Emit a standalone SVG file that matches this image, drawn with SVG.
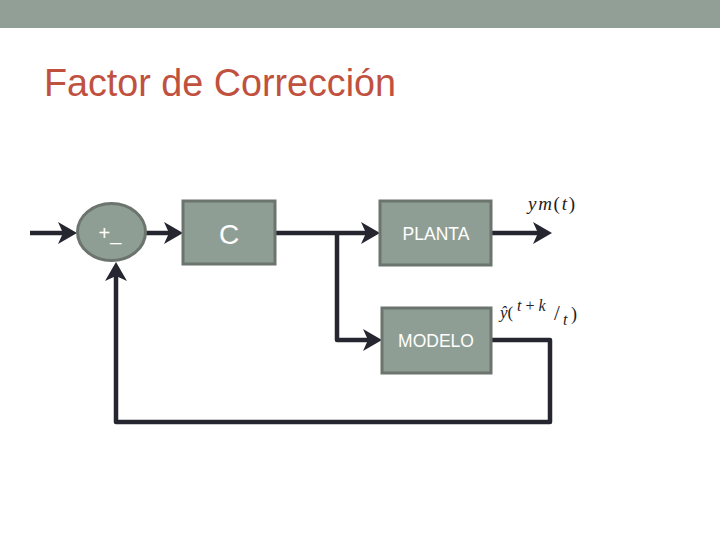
<svg xmlns="http://www.w3.org/2000/svg" width="720" height="540" viewBox="0 0 720 540">
<style>
.box{fill:#8f9e94;stroke:#6b756d;stroke-width:3}
.lbl{font-family:"Liberation Sans",Arial,sans-serif;fill:#ffffff;text-anchor:middle}
.wire{fill:none;stroke:#25262f;stroke-width:4.5;stroke-linejoin:round}
.math{font-family:"Liberation Serif","Times New Roman",serif;fill:#222222}
</style>
<defs>
<marker id="arr" markerUnits="userSpaceOnUse" viewBox="-10 -12 22 24" markerWidth="22" markerHeight="24" refX="0" refY="0" orient="auto" overflow="visible">
<path d="M10,0 L-9,-11 L-4,0 L-9,11 Z" fill="#25262f"/>
</marker>
</defs>
<rect x="0" y="0" width="720" height="28" fill="#929f96"/>
<text x="44" y="96" font-family="'Liberation Sans',Arial,sans-serif" font-size="38" fill="#c0513f" textLength="352" lengthAdjust="spacingAndGlyphs">Factor de Corrección</text>
<g id="connectors">
<path class="wire" d="M30,233 H67" marker-end="url(#arr)"/>
<path class="wire" d="M146,233 H173" marker-end="url(#arr)"/>
<path class="wire" d="M275,233 H370" marker-end="url(#arr)"/>
<path class="wire" d="M337,233 V340 H372" marker-end="url(#arr)"/>
<path class="wire" d="M491,233 H542" marker-end="url(#arr)"/>
<path class="wire" d="M491,340 H550 V422 H116 V272" marker-end="url(#arr)"/>
</g>
<g id="sum">
<ellipse class="box" cx="111.5" cy="232" rx="34" ry="28.5"/>
<text class="lbl" x="110" y="240" font-size="20">+_</text>
</g>
<g id="C">
<rect class="box" x="183" y="201" width="92" height="63"/>
<text class="lbl" x="229" y="244" font-size="28">C</text>
</g>
<g id="planta">
<rect class="box" x="380" y="201" width="111" height="64"/>
<text class="lbl" x="436" y="240" font-size="17.5">PLANTA</text>
</g>
<g id="modelo">
<rect class="box" x="382" y="308" width="109" height="65"/>
<text class="lbl" x="436" y="347" font-size="17.5">MODELO</text>
</g>
<g id="labels">
<text class="math" x="528" y="210" font-size="19" textLength="47" lengthAdjust="spacing"><tspan font-style="italic">ym</tspan>(<tspan font-style="italic">t</tspan>)</text>
<text class="math" x="500" y="318" font-size="17"><tspan font-style="italic">ŷ</tspan>(</text>
<text class="math" x="517" y="311" font-size="16"><tspan font-style="italic">t</tspan> + <tspan font-style="italic">k</tspan></text>
<text class="math" x="554" y="320" font-size="21">/</text>
<text class="math" x="563" y="325" font-size="16" font-style="italic">t</text>
<text class="math" x="571" y="320" font-size="18">)</text>
</g>
</svg>
